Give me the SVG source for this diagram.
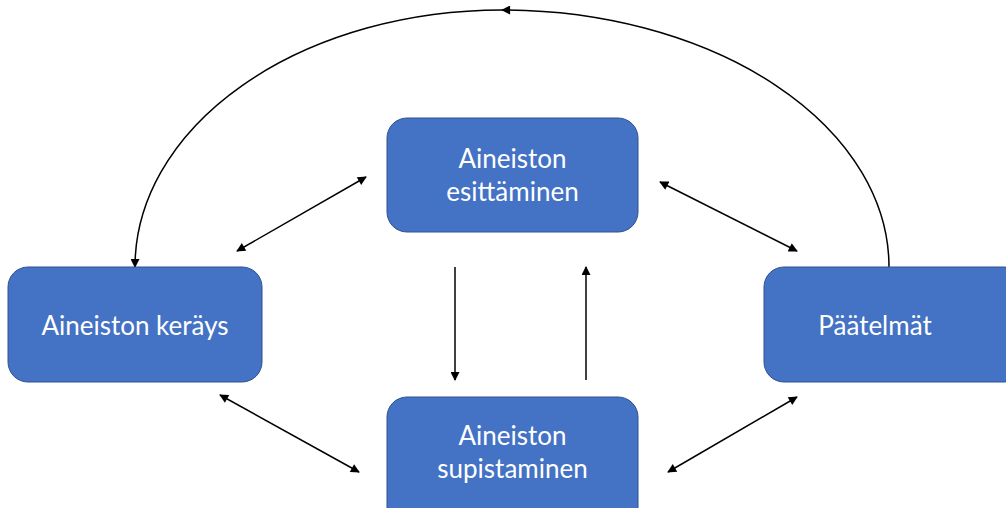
<svg xmlns="http://www.w3.org/2000/svg" width="1006" height="508" viewBox="0 0 1006 508">
  <style>
    .box { fill: #4472C4; stroke: #2F528F; stroke-width: 1; }
    .label { fill: #ffffff; font-family: Lato, "Open Sans", "Liberation Sans", sans-serif; font-size: 26px; text-anchor: middle; }
    .conn { fill: none; stroke: #000000; stroke-width: 1.5; }
  </style>
  <defs>
    <marker id="tip" viewBox="0 0 10 10" refX="9" refY="5" markerWidth="10" markerHeight="9" orient="auto-start-reverse" markerUnits="userSpaceOnUse">
      <path d="M0,0 L10,5 L0,10 z" fill="#000000"/>
    </marker>
  </defs>
  <rect width="1006" height="508" fill="#ffffff"/>

  <g id="connectors">
    <!-- outer feedback loop from Päätelmät back to Aineiston keräys -->
    <path class="conn" d="M889,267 A387,257 0 0 0 502,10" marker-end="url(#tip)"/>
    <path class="conn" d="M502,10 A367,257 0 0 0 135,267" marker-end="url(#tip)"/>
    <!-- two-way links -->
    <line class="conn" x1="237" y1="251" x2="366" y2="177" marker-start="url(#tip)" marker-end="url(#tip)"/>
    <line class="conn" x1="660" y1="182" x2="797" y2="251" marker-start="url(#tip)" marker-end="url(#tip)"/>
    <line class="conn" x1="220" y1="395" x2="359" y2="472" marker-start="url(#tip)" marker-end="url(#tip)"/>
    <line class="conn" x1="668" y1="472" x2="797" y2="397" marker-start="url(#tip)" marker-end="url(#tip)"/>
    <!-- vertical links between esittäminen and supistaminen -->
    <line class="conn" x1="455" y1="267" x2="455" y2="380" marker-end="url(#tip)"/>
    <line class="conn" x1="586" y1="380" x2="586" y2="267" marker-end="url(#tip)"/>
  </g>

  <g id="node-esittaminen">
    <rect class="box" x="387" y="118" width="251" height="114" rx="20"/>
    <text class="label" x="512.5" y="168">Aineiston</text>
    <text class="label" x="512.5" y="201">esittäminen</text>
  </g>

  <g id="node-keruu">
    <rect class="box" x="8" y="267" width="254" height="115" rx="20"/>
    <text class="label" x="135" y="335">Aineiston keräys</text>
  </g>

  <g id="node-paatelmat">
    <rect class="box" x="764" y="267" width="260" height="115" rx="20"/>
    <text class="label" x="875" y="335">Päätelmät</text>
  </g>

  <g id="node-supistaminen">
    <rect class="box" x="387" y="397" width="251" height="130" rx="20"/>
    <text class="label" x="512.5" y="445">Aineiston</text>
    <text class="label" x="512.5" y="478">supistaminen</text>
  </g>
</svg>
